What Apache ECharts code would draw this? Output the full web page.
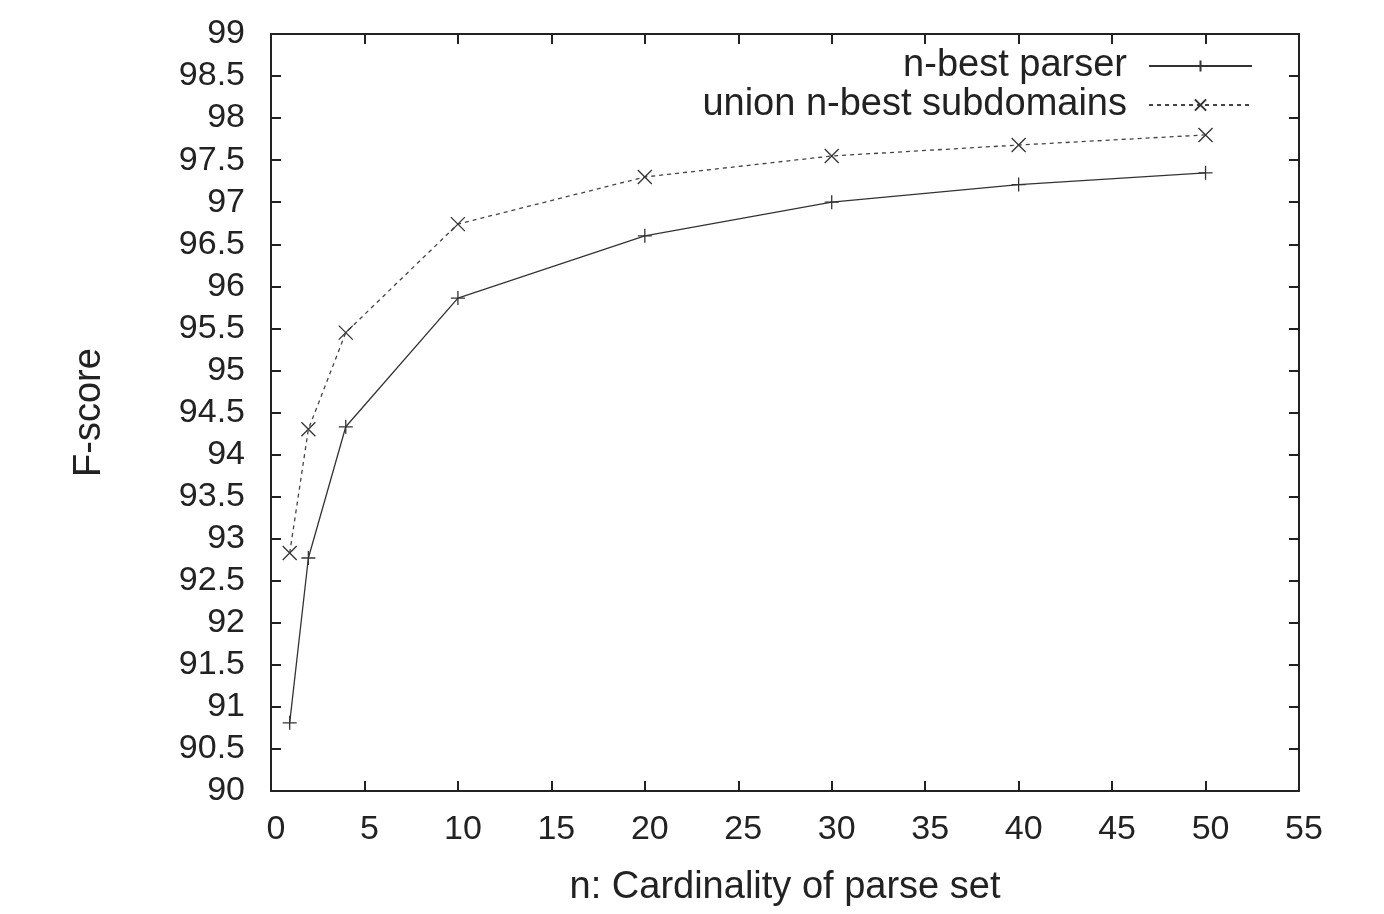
<!DOCTYPE html>
<html>
<head>
<meta charset="utf-8">
<script src="https://cdn.jsdelivr.net/npm/echarts@6/dist/echarts.min.js"></script>
<style>html,body{margin:0;padding:0;background:#fff}#c{width:1384px;height:914px}</style>
</head>
<body>
<div id="c"></div>
<script>
var nValues = [1, 2, 4, 10, 20, 30, 40, 50];
var nbestParser = [90.81, 92.77, 94.33, 95.86, 96.60, 97.00, 97.21, 97.35];
var unionSubdomains = [92.83, 94.30, 95.45, 96.74, 97.30, 97.55, 97.68, 97.80];
var seriesNames = ['n-best parser', 'union n-best subdomains'];

var FONT = 'Liberation Sans, Arial, Helvetica, sans-serif';
var AX = '#222';
var plusPath = 'path://M0,5L10,5M5,0L5,10';
var crossPath = 'path://M0,0L10,10M10,0L0,10';

function pairs(xs, ys) { return xs.map(function (x, i) { return [x, ys[i]]; }); }

var chart = echarts.init(document.getElementById('c'), null, {renderer: 'canvas'});
var axisLabelStyle = {fontFamily: FONT, fontSize: 34, color: '#222'};
var legendBase = {
  right: 131, align: 'right', itemGap: 0, padding: 0,
  itemWidth: 103, itemHeight: 14,
  textStyle: {fontFamily: FONT, fontSize: 38, color: '#222', padding: [0, 17, 0, 0]}
};
chart.setOption({
  backgroundColor: '#fff',
  animation: false,
  grid: {left: 271, top: 34, right: 85, bottom: 123},
  xAxis: [{
    type: 'value', min: 0, max: 55, interval: 5,
    name: 'n: Cardinality of parse set', nameLocation: 'middle', nameGap: 78,
    nameTextStyle: {fontFamily: FONT, fontSize: 38, color: '#222'},
    axisLine: {show: true, onZero: false, lineStyle: {color: AX, width: 2}},
    axisTick: {show: true, inside: true, length: 10, lineStyle: {color: AX, width: 2}},
    axisLabel: Object.assign({margin: 22, padding: [0, 0, 0, 10]}, axisLabelStyle),
    splitLine: {show: false}
  }, {
    type: 'value', min: 0, max: 55, interval: 5, position: 'top',
    axisLine: {show: true, onZero: false, lineStyle: {color: AX, width: 2}},
    axisTick: {show: true, inside: true, length: 10, lineStyle: {color: AX, width: 2}},
    axisLabel: {show: false}, splitLine: {show: false}
  }],
  yAxis: [{
    type: 'value', min: 90, max: 99, interval: 0.5,
    name: 'F-score', nameLocation: 'middle', nameGap: 162, nameRotate: 90,
    nameTextStyle: {fontFamily: FONT, fontSize: 38, color: '#222'},
    axisLine: {show: true, onZero: false, lineStyle: {color: AX, width: 2}},
    axisTick: {show: true, inside: true, length: 10, lineStyle: {color: AX, width: 2}},
    axisLabel: Object.assign({margin: 26}, axisLabelStyle),
    splitLine: {show: false}
  }, {
    type: 'value', min: 90, max: 99, interval: 0.5, position: 'right',
    axisLine: {show: true, onZero: false, lineStyle: {color: AX, width: 2}},
    axisTick: {show: true, inside: true, length: 10, lineStyle: {color: AX, width: 2}},
    axisLabel: {show: false}, splitLine: {show: false}
  }],
  legend: [
    Object.assign({data: [seriesNames[0]], top: 47}, legendBase),
    Object.assign({data: [seriesNames[1]], top: 86}, legendBase)
  ],
  series: [{
    name: seriesNames[0], type: 'line', data: pairs(nValues, nbestParser),
    symbol: plusPath, symbolSize: 14, showAllSymbol: true,
    itemStyle: {color: 'none', borderColor: '#333', borderWidth: 1.3},
    lineStyle: {color: '#333', width: 1.3, type: 'solid'},
    emphasis: {disabled: true}
  }, {
    name: seriesNames[1], type: 'line', data: pairs(nValues, unionSubdomains),
    symbol: crossPath, symbolSize: 14, showAllSymbol: true,
    itemStyle: {color: 'none', borderColor: '#333', borderWidth: 1.3},
    lineStyle: {color: '#444', width: 1.3, type: [4, 4]},
    emphasis: {disabled: true}
  }]
});
</script>
</body>
</html>
